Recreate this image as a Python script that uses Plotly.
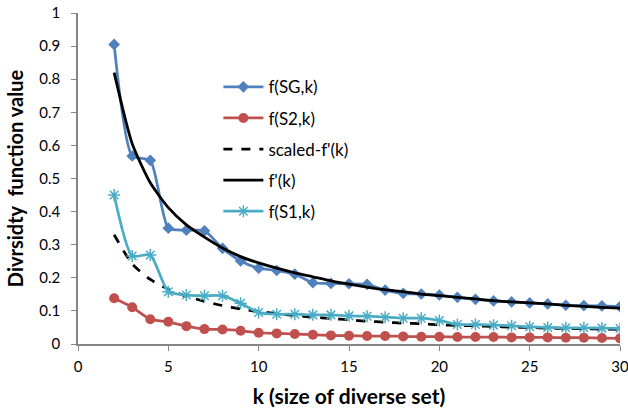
import plotly.graph_objects as go

k = list(range(2, 31))
f_SG = [0.905, 0.568, 0.555, 0.35, 0.344, 0.342, 0.289, 0.251, 0.229, 0.222, 0.211, 0.185, 0.183,
        0.182, 0.180, 0.163, 0.153, 0.151, 0.148, 0.141, 0.135, 0.130, 0.127, 0.124, 0.121, 0.117,
        0.116, 0.115, 0.113]
f_S2 = [0.138, 0.111, 0.075, 0.067, 0.054, 0.045, 0.044, 0.040, 0.034, 0.032, 0.030, 0.028, 0.026,
        0.025, 0.024, 0.024, 0.023, 0.022, 0.022, 0.021, 0.021, 0.021, 0.020, 0.020, 0.020, 0.019,
        0.019, 0.018, 0.017]
scaled_fp = [0.33, 0.242, 0.195, 0.165, 0.144, 0.129, 0.116, 0.106, 0.098, 0.092, 0.086, 0.081, 0.077,
             0.073, 0.069, 0.066, 0.063, 0.061, 0.058, 0.056, 0.055, 0.053, 0.051, 0.05, 0.048, 0.047,
             0.046, 0.045, 0.044]
fp = [0.82, 0.605, 0.487, 0.412, 0.36, 0.323, 0.29, 0.264, 0.245, 0.229, 0.215, 0.203, 0.191, 0.181,
      0.172, 0.164, 0.158, 0.151, 0.146, 0.141, 0.136, 0.131, 0.127, 0.124, 0.121, 0.117, 0.114, 0.111, 0.108]
f_S1 = [0.45, 0.266, 0.269, 0.158, 0.148, 0.146, 0.146, 0.123, 0.095, 0.090, 0.090, 0.088, 0.088,
        0.085, 0.084, 0.081, 0.078, 0.078, 0.071, 0.059, 0.059, 0.057, 0.055, 0.052, 0.050, 0.049,
        0.049, 0.048, 0.047]

x_ticks = [0, 5, 10, 15, 20, 25, 30]
y_ticks = [0, 0.1, 0.2, 0.3, 0.4, 0.5, 0.6, 0.7, 0.8, 0.9, 1]
y_labels = ["0", "0.1", "0.2", "0.3", "0.4", "0.5", "0.6", "0.7", "0.8", "0.9", "1"]

FONT = "Lato"
LW = 2.75
fig = go.Figure()
fig.add_trace(go.Scatter(x=k, y=f_SG, name="f(SG,k)", mode="lines+markers", legendgroup="a",
                         line=dict(color="#4F81BD", width=LW, shape="spline", smoothing=0.6),
                         marker=dict(symbol="diamond", size=9, color="#4F81BD")))
fig.add_trace(go.Scatter(x=k, y=f_S2, name="f(S2,k)", mode="lines+markers", legendgroup="b",
                         line=dict(color="#C0504D", width=LW, shape="spline", smoothing=0.6),
                         marker=dict(symbol="circle", size=10, color="#C0504D")))
fig.add_trace(go.Scatter(x=k, y=scaled_fp, name="scaled-f'(k)", mode="lines", legendgroup="c",
                         line=dict(color="black", width=LW, dash="dash", shape="spline", smoothing=0.6)))
fig.add_trace(go.Scatter(x=k, y=fp, name="f'(k)", mode="lines", legendgroup="d",
                         line=dict(color="black", width=LW, shape="spline", smoothing=0.6)))
fig.add_trace(go.Scatter(x=k, y=f_S1, name="f(S1,k)", mode="lines+markers", legendgroup="e",
                         line=dict(color="#4BACC6", width=LW, shape="spline", smoothing=0.6),
                         marker=dict(symbol="asterisk-open", size=10, color="#4BACC6",
                                     line=dict(color="#4BACC6", width=1.5))))

axis_common = dict(showgrid=False, zeroline=False, showline=True, linecolor="#868686", linewidth=1.5,
                   ticks="outside", ticklen=5, tickcolor="#868686", automargin=False,
                   ticklabeloverflow="allow",
                   tickfont=dict(family=FONT, size=15, color="black"))
fig.update_xaxes(range=[0, 30], tickvals=x_ticks, **axis_common, ticklabelstandoff=3,
                 title=dict(text="<b>k (size of diverse set)</b>", font=dict(family=FONT, size=21, color="black"),
                            standoff=16))
fig.update_yaxes(range=[0, 1], tickvals=y_ticks, ticktext=y_labels, **axis_common, ticklabelstandoff=8,
                 title=dict(text="<b>Divrsidty  function value</b>", font=dict(family=FONT, size=20, color="black"),
                            standoff=10))
fig.update_layout(
    width=628, height=410,
    margin=dict(l=78, r=8, t=13, b=66),
    plot_bgcolor="white", paper_bgcolor="white",
    legend=dict(x=0.259, y=0.83, xanchor="left", yanchor="top", font=dict(family=FONT, size=17, color="black"),
                tracegroupgap=6, bgcolor="rgba(0,0,0,0)", itemwidth=40),
)
fig.write_html("out.html", post_script="document.body.style.margin='0';",
               config={"displayModeBar": False})
